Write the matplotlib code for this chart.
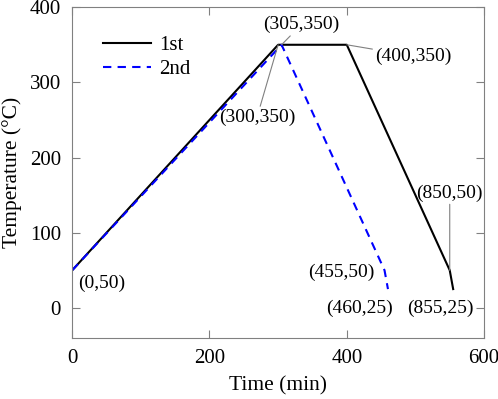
import matplotlib
matplotlib.use("Agg")
import matplotlib.pyplot as plt

plt.rcParams["font.family"] = ["Liberation Serif", "DejaVu Serif"]

# heating profiles
first_time = [0, 300, 400, 550, 555]
first_temp = [50, 350, 350, 50, 25]
second_time = [0, 305, 455, 460]
second_temp = [50, 350, 50, 25]

# point labels: text, anchor point, text position, leader line
labels = [
    ("(0,50)", (0, 50), (9, 33), False),
    ("(300,350)", (300, 350), (269, 253), True),
    ("(305,350)", (305, 350), (334, 377), True),
    ("(400,350)", (400, 350), (497, 335), True),
    ("(850,50)", (550, 50), (550, 153), True),
    ("(855,25)", (555, 25), (536, 0), False),
    ("(455,50)", (455, 50), (392, 47), False),
    ("(460,25)", (460, 25), (419, 0), False),
]

GRAY = "#808080"

fig, ax = plt.subplots(figsize=(4.98, 3.99), dpi=100)
ax.plot(first_time, first_temp, color="black", linewidth=1.5, label="1st")
ax.plot(second_time, second_temp, color="#0000ff", linewidth=1.5,
        linestyle=(0, (4, 3)), label="2nd")

for text, xy, xytext, leader in labels:
    ha = "left" if text == "(0,50)" else "center"
    if leader:
        ax.annotate(text, xy=xy, xytext=xytext, fontsize=14, ha=ha, va="center",
                    arrowprops=dict(arrowstyle="-", color=GRAY, linewidth=0.8,
                                    shrinkA=0, shrinkB=0))
    else:
        ax.annotate(text, xy=xy, xytext=xytext, fontsize=14, ha=ha, va="center")

ax.set_xlim(0, 600)
ax.set_ylim(-40, 400)
ax.set_xticks([0, 200, 400, 600])
ax.set_yticks([0, 100, 200, 300, 400])
ax.tick_params(direction="in", top=True, right=True, labelsize=15, length=6,
               color=GRAY, pad=8)
for s in ax.spines.values():
    s.set_color(GRAY)
ax.set_xlabel("Time (min)", fontsize=15.5, labelpad=6)
ax.set_ylabel("Temperature (°C)", fontsize=15.5, labelpad=6)
ax.legend(loc="upper left", bbox_to_anchor=(0.03, 0.97), frameon=False, fontsize=15,
          handlelength=2.3, handletextpad=0.4, labelspacing=0.2)

fig.subplots_adjust(left=0.145, right=0.972, top=0.982, bottom=0.153)
fig.savefig("out.png", dpi=100)
